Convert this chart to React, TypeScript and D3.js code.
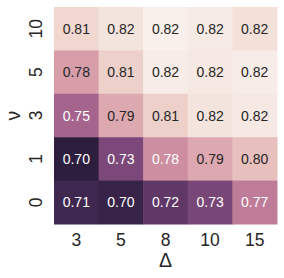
import React, { useEffect, useRef } from "react";
import * as d3 from "d3";

// columns (Δ) and rows (ν), rows listed top to bottom
const deltas = ["3", "5", "8", "10", "15"];
const nus = ["10", "5", "3", "1", "0"];

const nu10 = [0.812, 0.818, 0.824, 0.821, 0.816];
const nu5 = [0.784, 0.808, 0.822, 0.82, 0.822];
const nu3 = [0.752, 0.789, 0.808, 0.818, 0.82];
const nu1 = [0.7, 0.733, 0.776, 0.789, 0.8];
const nu0 = [0.708, 0.704, 0.721, 0.732, 0.766];

const rows = [nu10, nu5, nu3, nu1, nu0];

const W = 284;
const H = 278;
const margin = { top: 7, right: 7, bottom: 54, left: 54 };
const font = "'Liberation Sans', Arial, sans-serif";
const ink = "#262626";

// seaborn cubehelix_palette(light=.95, reverse=True, as_cmap=True)
const cubehelix = (t: number) => {
  const x = 0.15 + t * (0.95 - 0.15);
  const a = (0.8 * x * (1 - x)) / 2;
  const phi = 2 * Math.PI * (0.4 * x);
  const c = Math.cos(phi);
  const s = Math.sin(phi);
  const clamp = (v: number) => Math.max(0, Math.min(1, v));
  const r = clamp(x + a * (-0.14861 * c + 1.78277 * s));
  const g = clamp(x + a * (-0.29227 * c - 0.90649 * s));
  const b = clamp(x + a * (1.97294 * c));
  return [r, g, b];
};

const luminance = ([r, g, b]: number[]) => {
  const lin = (v: number) =>
    v <= 0.03928 ? v / 12.92 : Math.pow((v + 0.055) / 1.055, 2.4);
  return 0.2126 * lin(r) + 0.7152 * lin(g) + 0.0722 * lin(b);
};

const App = () => {
  const ref = useRef<SVGSVGElement>(null);

  useEffect(() => {
    const svg = d3.select(ref.current);
    svg.selectAll("*").remove();

    const cells = rows.flatMap((vals, i) =>
      vals.map((v, j) => ({ nu: nus[i], delta: deltas[j], value: v }))
    );

    const x = d3
      .scaleBand()
      .domain(deltas)
      .range([margin.left, W - margin.right]);
    const y = d3
      .scaleBand()
      .domain(nus)
      .range([margin.top, H - margin.bottom]);

    const vmin = d3.min(cells, (d) => d.value) as number;
    const vmax = d3.max(cells, (d) => d.value) as number;
    const t = d3.scaleLinear().domain([vmin, vmax]).range([0, 1]).clamp(true);
    const rgb = (v: number) => cubehelix(t(v));
    const toHex = (c: number[]) =>
      d3.rgb(c[0] * 255, c[1] * 255, c[2] * 255).formatHex();
    const fmt = d3.format(".2f");

    // cells
    svg
      .append("g")
      .selectAll("rect")
      .data(cells)
      .join("rect")
      .attr("x", (d) => x(d.delta) as number)
      .attr("y", (d) => y(d.nu) as number)
      .attr("width", x.bandwidth() + 0.5)
      .attr("height", y.bandwidth() + 0.5)
      .attr("fill", (d) => toHex(rgb(d.value)));

    // annotations
    svg
      .append("g")
      .selectAll("text")
      .data(cells)
      .join("text")
      .attr("x", (d) => (x(d.delta) as number) + x.bandwidth() / 2)
      .attr("y", (d) => (y(d.nu) as number) + y.bandwidth() / 2)
      .attr("dy", "0.36em")
      .attr("text-anchor", "middle")
      .style("font-family", font)
      .style("font-size", "14px")
      .style("fill", (d) => (luminance(rgb(d.value)) > 0.408 ? ink : "#ffffff"))
      .text((d) => fmt(d.value));

    // x axis
    const gx = svg
      .append("g")
      .attr("transform", `translate(0, ${H - margin.bottom})`)
      .call(d3.axisBottom(x).tickSize(0).tickPadding(10));
    gx.select(".domain").remove();
    gx.selectAll("text")
      .style("font-family", font)
      .style("font-size", "17.5px")
      .style("fill", ink);

    // y axis, labels rotated
    const gy = svg
      .append("g")
      .attr("transform", `translate(${margin.left}, 0)`)
      .call(d3.axisLeft(y).tickSize(0));
    gy.select(".domain").remove();
    gy.selectAll(".tick text")
      .attr("x", null)
      .attr("dy", null)
      .attr("transform", "translate(-12, 0) rotate(-90)")
      .attr("text-anchor", "middle")
      .style("font-family", font)
      .style("font-size", "17.5px")
      .style("fill", ink);

    // axis titles
    svg
      .append("text")
      .attr("x", (margin.left + W - margin.right) / 2)
      .attr("y", 266.5)
      .attr("text-anchor", "middle")
      .style("font-family", font)
      .style("font-size", "19.5px")
      .style("fill", ink)
      .text("Δ");

    svg
      .append("text")
      .attr(
        "transform",
        `translate(19.5, ${(margin.top + H - margin.bottom) / 2}) rotate(-90)`
      )
      .attr("text-anchor", "middle")
      .style("font-family", font)
      .style("font-size", "19.5px")
      .style("fill", ink)
      .text("ν");
  }, []);

  return (
    <svg
      ref={ref}
      width={W}
      height={H}
      style={{ position: "absolute", left: 0, top: 0, background: "#fff" }}
    />
  );
};

export default App;
